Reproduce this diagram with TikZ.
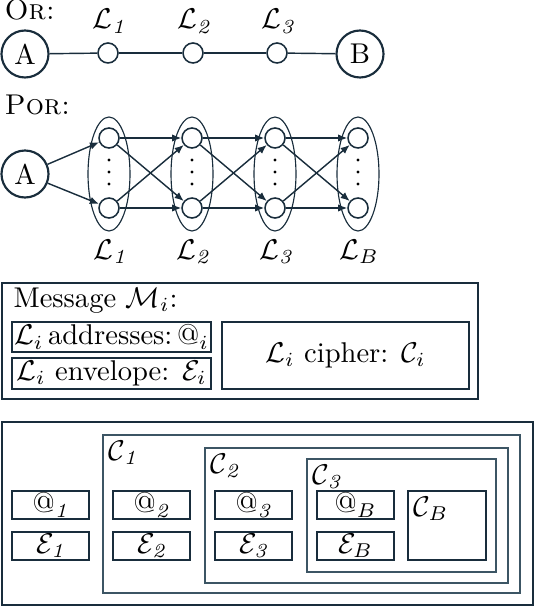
\documentclass[tikz,border=0pt]{standalone}
\usepackage{amsmath}
\usepackage{fontspec}
\usetikzlibrary{arrows.meta,fit}
\definecolor{ln}{RGB}{25,45,60}
\definecolor{lnc}{RGB}{60,85,100}
\newcommand{\dg}[1]{\text{\itshape\addfontfeatures{Numbers=OldStyle}#1}}
\def\pxu{0.35}
\begin{document}
\begin{tikzpicture}[x=\pxu pt,y=-\pxu pt,
  big/.style={circle,draw=ln,line width=0.75pt,minimum size={47*\pxu pt},inner sep=0pt},
  sm/.style={circle,draw=ln,line width=0.55pt,minimum size={20*\pxu pt},inner sep=0pt},
  lay/.style={draw=ln,line width=0.4pt},
  arr/.style={draw=ln,line width=0.5pt,-{Latex[length=3.2pt,width=2.6pt]}},
  lnk/.style={draw=ln,line width=0.5pt},
  frame/.style={draw=ln,line width=0.75pt,inner sep=0pt},
  cframe/.style={draw=lnc,line width=0.65pt,inner sep=0pt},
  sbox/.style={draw=ln,line width=0.9pt,inner sep=0pt},
  clab/.style={anchor=north west,inner sep=2.2pt}]
\useasboundingbox (0,0) rectangle (536,606);

% ---------- OR ----------
\node[anchor=base west,inner sep=0pt] (ortxt) at (4,20) {\textsc{Or:}};
\node[big] (oA) at (25,54) {A};
\node[big] (oB) at (360,54) {B};
\node[sm] (o1) at (108,53) {};
\node[sm] (o2) at (193,53) {};
\node[sm] (o3) at (277,53) {};
\node[anchor=base,inner sep=0pt] (ol1) at (109,29) {$\mathcal{L}_{\dg1}$};
\node[anchor=base,inner sep=0pt] (ol2) at (194,29) {$\mathcal{L}_{\dg2}$};
\node[anchor=base,inner sep=0pt] (ol3) at (278,29) {$\mathcal{L}_{\dg3}$};
\draw[lnk] (oA) -- (o1);
\draw[lnk] (o1) -- (o2);
\draw[lnk] (o2) -- (o3);
\draw[lnk] (o3) -- (oB);

% ---------- POR ----------
\node[anchor=base west,inner sep=0pt] (portxt) at (4,115) {\textsc{Por:}};
\node[big] (pA) at (25,174) {A};
\foreach \i/\x/\s in {1/109/\dg1,2/192/\dg2,3/275/\dg3,4/358/B}{
  \draw[lay] (\x,174) ellipse [x radius=21, y radius=57];
  \node[sm] (t\i) at (\x,138) {};
  \node[sm] (b\i) at (\x,208) {};
  \fill[black] (\x,160) circle [radius=1.7];
  \fill[black] (\x,172) circle [radius=1.7];
  \fill[black] (\x,184) circle [radius=1.7];
  \node[anchor=base,inner sep=0pt] (pl\i) at (\x+1,259) {$\mathcal{L}_{\s}$};
}
\draw[arr] (pA) -- (t1);
\draw[arr] (pA) -- (b1);
\foreach \i/\j in {1/2,2/3,3/4}{
  \draw[arr] (t\i) -- (t\j);
  \draw[arr] (t\i) -- (b\j);
  \draw[arr] (b\i) -- (t\j);
  \draw[arr] (b\i) -- (b\j);
}

% ---------- Message ----------
\node[frame,fit={(2,283) (478,399)}] (msg) {};
\node[anchor=base west,inner sep=0pt] (msgtxt) at (13,307) {Message $\mathcal{M}_i$:};
\node[sbox,fit={(12,322) (211,352)}] (addr) {};
\node (addrtxt) at (addr.center) {$\mathcal{L}_i$\,addresses:\,\mbox{@}$_i$};
\node[sbox,fit={(12,358) (211,389)}] (env) {};
\node (envtxt) at (env.center) {$\mathcal{L}_i$ envelope: $\mathcal{E}_i$};
\node[sbox,fit={(222,322) (469,389)}] (ciph) {};
\node (ciphtxt) at (ciph.center) {$\mathcal{L}_i$ cipher: $\mathcal{C}_i$};

% ---------- Onion ----------
\node[frame,fit={(2,422) (533,605)}] (onion) {};
\node[cframe,fit={(103,435) (520,593)}] (c1) {};
\node[clab] (c1l) at (c1.north west) {$\mathcal{C}_{\dg1}$};
\node[cframe,fit={(205,448) (508,583)}] (c2) {};
\node[clab] (c2l) at (c2.north west) {$\mathcal{C}_{\dg2}$};
\node[cframe,fit={(307,459) (496,572)}] (c3) {};
\node[clab] (c3l) at (c3.north west) {$\mathcal{C}_{\dg3}$};
\node[sbox,fit={(408,491) (486,560)}] (cb) {};
\node[clab] (cbl) at (cb.north west) {$\mathcal{C}_B$};
\foreach \i/\x/\s in {1/12/\dg1,2/113/\dg2,3/215/\dg3,4/317/B}{
  \node[sbox,fit={(\x,491) (\x+77,519)}] (a\i) {};
  \node (a\i t) at (a\i.center) {\mbox{@}$_{\s}$};
  \node[sbox,fit={(\x,532) (\x+77,560)}] (e\i) {};
  \node (e\i t) at (e\i.center) {$\mathcal{E}_{\s}$};
}
\end{tikzpicture}
\end{document}
